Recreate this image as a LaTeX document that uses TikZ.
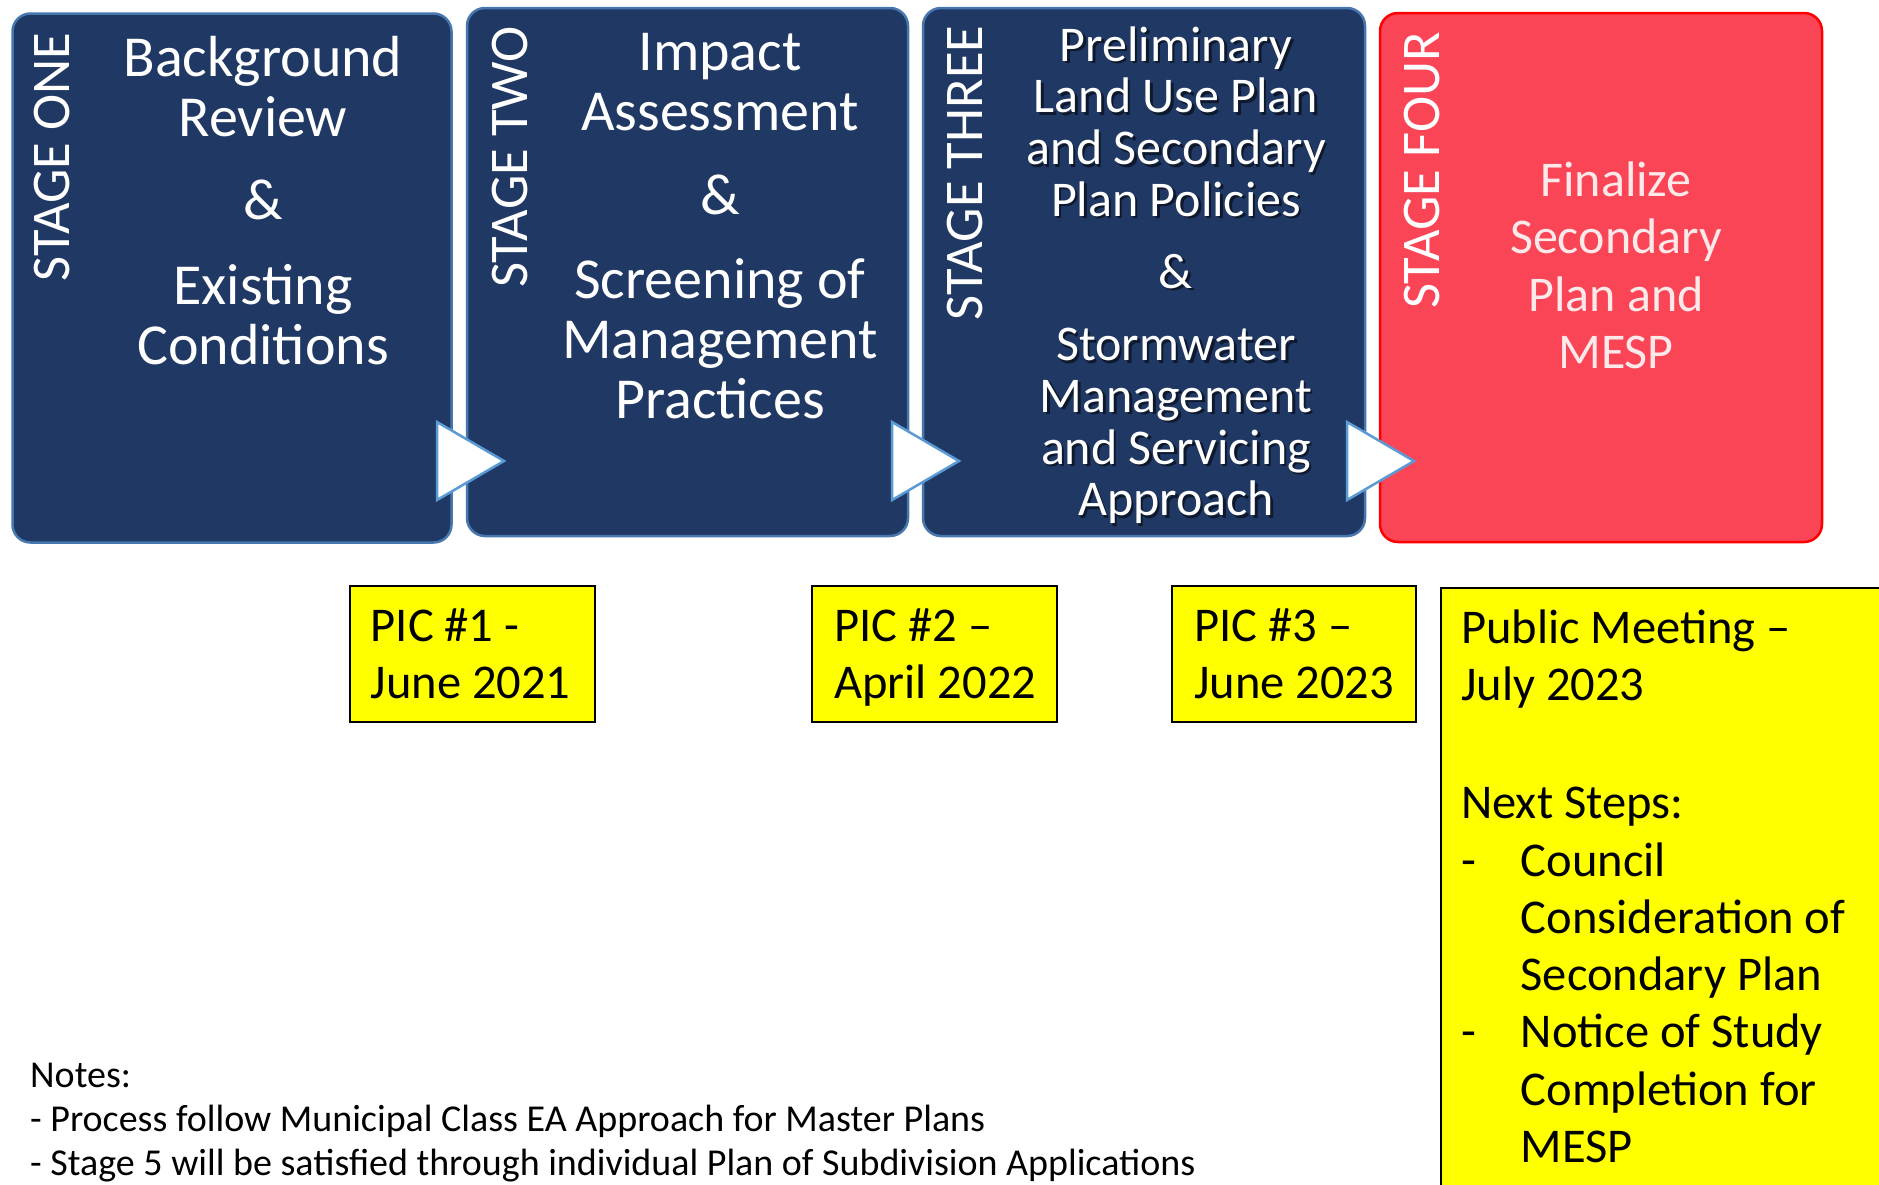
\documentclass[tikz,border=0pt]{standalone}
\usepackage{fontspec}
\setmainfont{Carlito}
\definecolor{navy}{RGB}{32,56,100}
\definecolor{navyline}{RGB}{70,120,175}
\definecolor{redfill}{RGB}{249,69,85}
\definecolor{redline}{RGB}{255,0,0}
\definecolor{pinktext}{RGB}{253,232,234}
\definecolor{triline}{RGB}{91,155,213}
\definecolor{yel}{RGB}{255,255,0}
\begin{document}
\begin{tikzpicture}[x=1pt,y=-1pt,
  stagebox/.style={draw=navyline, line width=2.5pt, fill=navy, rounded corners=18pt, inner sep=0},
  finalbox/.style={draw=redline, line width=2.5pt, fill=redfill, rounded corners=18pt, inner sep=0},
  stagelbl/.style={rotate=90, white, inner sep=0, font=\fontsize{54.5}{60}\selectfont},
  bigtxt/.style={anchor=base, inner sep=0, white, font=\fontsize{58}{60}\selectfont},
  midtxt/.style={anchor=base, inner sep=0, white, font=\fontsize{50}{51.8}\selectfont},
  fintxt/.style={anchor=base, inner sep=0, pinktext, font=\fontsize{50}{57.5}\selectfont},
  tri/.style={draw=triline, line width=2.5pt, fill=white, line join=miter},
  picbox/.style={draw=black, line width=1.5pt, fill=yel, inner sep=0},
  pictxt/.style={anchor=base west, inner sep=0, black, font=\fontsize{48.5}{57.3}\selectfont},
  notetxt/.style={anchor=base west, inner sep=0, black, font=\fontsize{38}{44}\selectfont}]
\useasboundingbox (0,0) rectangle (1879,1184);
\clip (0,0) rectangle (1879,1184);
\fill[white] (0,0) rectangle (1879,1184);

% stage boxes
\node[stagebox, minimum width=439pt, minimum height=529pt] (b1) at (232,278) {};
\node[stagebox, minimum width=441pt, minimum height=528pt] (b2) at (687.5,272) {};
\node[stagebox, minimum width=442pt, minimum height=528pt] (b3) at (1144,272) {};
\node[finalbox, minimum width=442pt, minimum height=529pt] (b4) at (1601,277.5) {};

% chevrons
\draw[tri] (437,422) -- (504,461) -- (437,500) -- cycle;
\draw[tri] (892,422) -- (959,461) -- (892,500) -- cycle;
\draw[tri] (1347,422) -- (1414,461) -- (1347,500) -- cycle;

% stage labels
\node[stagelbl] (l1) at (52.5,157) {STAGE ONE};
\node[stagelbl] (l2) at (509.5,157) {STAGE TWO};
\node[stagelbl] (l3) at (965,173) {STAGE THREE};
\node[stagelbl] (l4) at (1422,170.5) {STAGE FOUR};

% box texts
\node[bigtxt] (t1) at (263,76) {\begin{tabular}[t]{@{}c@{}}Background\\Review\\[23pt]\&\\[25pt]Existing\\Conditions\end{tabular}};
\node[bigtxt] (t2) at (720,70) {\begin{tabular}[t]{@{}c@{}}Impact\\Assessment\\[24pt]\&\\[24pt]Screening of\\Management\\Practices\end{tabular}};
\node[midtxt, black, opacity=0.55] (t3s) at (1178.5,63.5) {\begin{tabular}[t]{@{}c@{}}Preliminary\\Land Use Plan\\and Secondary\\Plan Policies\\[20pt]\&\\[20.5pt]Stormwater\\Management\\and Servicing\\Approach\end{tabular}};
\node[midtxt] (t3) at (1176,61) {\begin{tabular}[t]{@{}c@{}}Preliminary\\Land Use Plan\\and Secondary\\Plan Policies\\[20pt]\&\\[20.5pt]Stormwater\\Management\\and Servicing\\Approach\end{tabular}};
\node[fintxt] (t4) at (1616,196) {\begin{tabular}[t]{@{}c@{}}Finalize\\Secondary\\Plan and\\MESP\end{tabular}};

% yellow boxes
\node[picbox, minimum width=245pt, minimum height=136pt] (p1) at (472.5,654) {};
\node[picbox, minimum width=245pt, minimum height=136pt] (p2) at (934.5,654) {};
\node[picbox, minimum width=244pt, minimum height=136pt] (p3) at (1294,654) {};
\node[picbox, minimum width=449pt, minimum height=612pt] (p4) at (1665.5,894) {};

\node[pictxt] (q1) at (370.5,641.6) {\begin{tabular}[t]{@{}l@{}}PIC \#1 -\\June 2021\end{tabular}};
\node[pictxt] (q2) at (834,641.6) {\begin{tabular}[t]{@{}l@{}}PIC \#2 –\\April 2022\end{tabular}};
\node[pictxt] (q3) at (1194,641.6) {\begin{tabular}[t]{@{}l@{}}PIC \#3 –\\June 2023\end{tabular}};
\node[pictxt] (q4) at (1461,643.6) {\begin{tabular}[t]{@{}l@{}}Public Meeting –\\July 2023\\[60.5pt]Next Steps:\\\makebox[59.5pt][l]{-}Council\\\hspace*{59.5pt}Consideration of\\\hspace*{59.5pt}Secondary Plan\\\makebox[59.5pt][l]{-}Notice of Study\\\hspace*{59.5pt}Completion for\\\hspace*{59.5pt}MESP\end{tabular}};

% notes
\node[notetxt] (n1) at (30,1087) {\begin{tabular}[t]{@{}l@{}}Notes:\\- Process follow Municipal Class EA Approach for Master Plans\\- Stage 5 will be satisfied through individual Plan of Subdivision Applications\end{tabular}};
\end{tikzpicture}
\end{document}
